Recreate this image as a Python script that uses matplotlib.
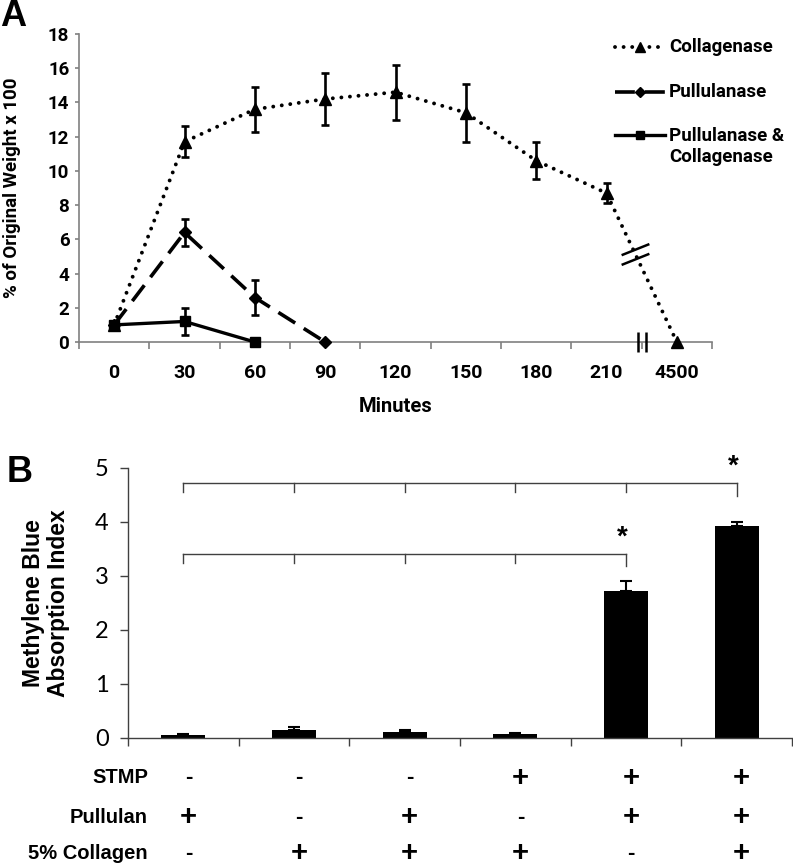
import numpy as np
import matplotlib
matplotlib.use("Agg")
import matplotlib.pyplot as plt
from matplotlib.path import Path

## Panel A data
minutes = ['0', '30', '60', '90', '120', '150', '180', '210', '4500']
collagenase = [1.0, 11.7, 13.6, 14.2, 14.6, 13.4, 10.6, 8.7, 0.0]
collagenase_err = [0, 0.9, 1.3, 1.5, 1.6, 1.7, 1.1, 0.6, 0]
pullulanase = [1.0, 6.4, 2.6, 0.0]
pullulanase_err = [0, 0.8, 1.0, 0]
pull_coll = [1.0, 1.2, 0.0]
pull_coll_err = [0, 0.8, 0]

## Panel B data
bar_values = [0.05, 0.15, 0.12, 0.07, 2.72, 3.93]
bar_err = [0.02, 0.05, 0.03, 0.02, 0.19, 0.07]
stmp = ['-', '-', '-', '+', '+', '+']
pullulan = ['+', '-', '+', '-', '+', '+']
collagen = ['-', '+', '+', '+', '-', '+']

BOLD_A = dict(family='Roboto', weight='bold')
ARIAL_B = dict(family='Liberation Sans', weight='bold')

fig = plt.figure(figsize=(7.93, 8.66), dpi=100)
W, H = 793.0, 866.0

## ---------------- Panel A ----------------
axA = fig.add_axes([79 / W, 1 - 342 / H, 633 / W, 308 / H])
styles = [
    (collagenase, collagenase_err, dict(linestyle=(0, (0.01, 2.2)), dash_capstyle='round', lw=2.8, marker='^', ms=8)),
    (pullulanase, pullulanase_err, dict(linestyle=(0, (5.5, 2.8)), lw=2.6, marker='D', ms=6)),
    (pull_coll, pull_coll_err, dict(linestyle='-', lw=2.4, marker='s', ms=7)),
]
for vals, errs, st in styles:
    x = np.arange(len(vals))
    axA.plot(x, vals, color='black', clip_on=False, zorder=3, **st)
    errs = np.array(errs)
    m = errs > 0
    axA.errorbar(x[m], np.array(vals)[m], yerr=errs[m], fmt='none', ecolor='black',
                 elinewidth=1.9, capsize=3, capthick=1.9, zorder=4)

axA.set_xlim(-0.5, len(minutes) - 0.5)
axA.set_ylim(0, 18)
axA.set_yticks(range(0, 19, 2))
axA.set_xticks(np.arange(-0.5, len(minutes), 1.0))
axA.set_xticklabels([])
axA.set_xticks(np.arange(len(minutes)), minor=True)
axA.set_xticklabels(minutes, minor=True, fontsize=14, **BOLD_A)
axA.tick_params(axis='x', which='major', length=5, width=1.2, color='#808080', direction='out')
axA.tick_params(axis='x', which='minor', length=0, pad=16)
axA.tick_params(axis='y', length=3, width=1.2, color='#808080', pad=4)
for lab in axA.get_yticklabels():
    lab.set_fontsize(13.5)
    lab.set_fontfamily('Roboto')
    lab.set_fontweight('bold')
for s in ['top', 'right']:
    axA.spines[s].set_visible(False)
for s in ['left', 'bottom']:
    axA.spines[s].set_color('#808080')
    axA.spines[s].set_linewidth(1.2)

axA.set_ylabel('% of Original Weight x 100', fontsize=13.5, va='center', **BOLD_A)
axA.yaxis.set_label_coords((12 - 79) / 633, 0.5)
axA.set_xlabel('Minutes', fontsize=14.5, va='center', **BOLD_A)
axA.xaxis.set_label_coords(0.5, (342 - 407) / 308)

# break marks
slash = Path([(-1, -0.05), (1, 0.75), (-1, -0.75), (1, 0.05)],
             [Path.MOVETO, Path.LINETO, Path.MOVETO, Path.LINETO])
t = 0.41
bx = 7 + t
by = collagenase[7] + t * (collagenase[8] - collagenase[7])
axA.plot(bx, by, marker=slash, ms=20, mec='black', mew=1.8, color='none', zorder=5)
pipes = Path([(-0.35, -1), (-0.35, 1), (0.35, -1), (0.35, 1)],
             [Path.MOVETO, Path.LINETO, Path.MOVETO, Path.LINETO])
axA.plot(7.5, 0, marker=pipes, ms=15, mec='black', mew=1.8, color='none', clip_on=False, zorder=5)

# legend drawn by hand
leg = [('Collagenase', styles[0][2], 0.958, 0.958),
       ('Pullulanase', styles[1][2], 0.812, 0.812),
       ('Pullulanase &\nCollagenase', styles[2][2], 0.672, 0.636)]
for label, st, yh, yt in leg:
    st2 = dict(st)
    mk = st2.pop('marker')
    ms = st2.pop('ms')
    axA.plot([0.847, 0.926], [yh, yh], color='black', transform=axA.transAxes, clip_on=False, **st2)
    axA.plot([0.8865], [yh], marker=mk, ms=ms * 0.85, color='black', transform=axA.transAxes, clip_on=False)
    axA.text(0.932, yt, label, transform=axA.transAxes, fontsize=13.5, va='center', ha='left',
             linespacing=1.2, **BOLD_A)

fig.text(13 / W, 1 - 17 / H, 'A', fontsize=26, ha='center', va='center', **ARIAL_B)

## ---------------- Panel B ----------------
axB = fig.add_axes([128 / W, 1 - 738 / H, 664 / W, 270 / H])
xb = np.arange(len(bar_values))
axB.bar(xb, bar_values, width=0.4, color='black', zorder=2)
axB.errorbar(xb, bar_values, yerr=[np.zeros(len(bar_err)), bar_err], fmt='none', ecolor='black',
             elinewidth=1.5, capsize=4.3, capthick=1.5, zorder=3)
axB.set_xlim(-0.5, len(bar_values) - 0.5)
axB.set_ylim(0, 5)
axB.set_xticks(np.arange(-0.5, len(bar_values), 1.0))
axB.set_xticklabels([])
axB.set_yticks(range(0, 6))
axB.tick_params(axis='both', length=6, width=1.0, color='#404040', direction='out')
axB.tick_params(axis='y', pad=8)
for lab in axB.get_yticklabels():
    lab.set_fontsize(17)
    lab.set_fontfamily('Lato')
for s in ['top', 'right']:
    axB.spines[s].set_visible(False)
for s in ['left', 'bottom']:
    axB.spines[s].set_color('#404040')
    axB.spines[s].set_linewidth(1.0)
axB.set_ylabel('Methylene Blue\nAbsorption Index', fontsize=16.5, va='center', linespacing=1.15, **ARIAL_B)
axB.yaxis.set_label_coords((46 - 128) / 664, 0.5)

# significance brackets: (start, end, height)
brackets = [(0, 5, 4.72), (0, 4, 3.41)]
for x0, x1, yb in brackets:
    axB.plot([x0, x1], [yb, yb], color='#404040', lw=1.0, zorder=1)
    for xi in range(x0, x1 + 1):
        drop = 0.23 if xi == x1 else 0.17
        axB.plot([xi, xi], [yb, yb - drop], color='#404040', lw=1.0, zorder=1)
    axB.text(x1 - 0.03, yb + 0.3, '*', ha='center', va='center', fontsize=20, **ARIAL_B)

# condition table below the axis
rows = [('STMP', stmp, -0.148), ('Pullulan', pullulan, -0.293), ('5% Collagen', collagen, -0.426)]
trans = axB.get_xaxis_transform()
for name, signs, yr in rows:
    axB.text((148 - 128) / 664, yr, name, transform=axB.transAxes, ha='right',
             va='center', fontsize=14.5, **ARIAL_B)
    for xi, sg in zip(xb, signs):
        axB.text(xi + 0.045, yr, sg, transform=trans, ha='center', va='center',
                 fontsize=21 if sg == '+' else 16, clip_on=False, **ARIAL_B)

fig.text(20 / W, 1 - 473 / H, 'B', fontsize=26, ha='center', va='center', **ARIAL_B)

fig.savefig('out.png', dpi=100)
